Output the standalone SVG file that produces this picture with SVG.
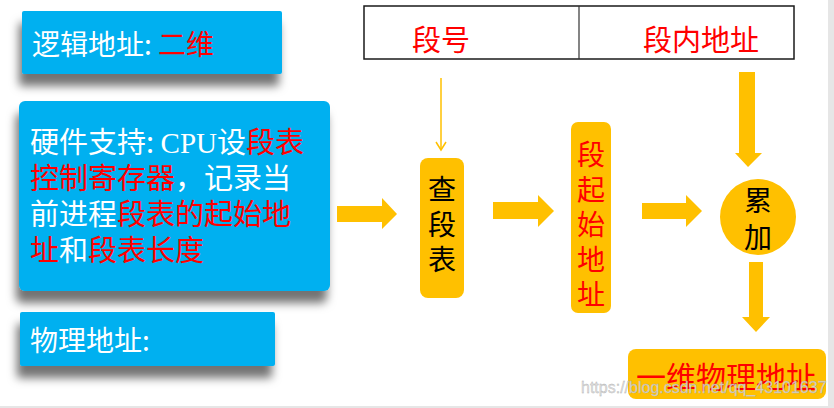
<svg xmlns="http://www.w3.org/2000/svg" width="834" height="408" viewBox="0 0 834 408">
<style>
.cjk{font-family:"Noto Sans CJK SC","Liberation Sans",sans-serif}
.w{fill:#ffffff}
.r{fill:#ff0000}
.k{fill:#000000}
.blue{fill:#00b0f0}
.org{fill:#ffc000}
.fat{fill:#ffc000}
</style>
<defs>
<filter id="sh" x="-20%" y="-30%" width="140%" height="180%">
<feDropShadow dx="-3" dy="12" stdDeviation="5" flood-color="#000" flood-opacity="0.55"/>
</filter>
<marker id="vhead" markerWidth="12" markerHeight="12" refX="10" refY="6" orient="auto" markerUnits="userSpaceOnUse" viewBox="0 0 12 12">
<path d="M2,1 L10,6 L2,11" fill="none" stroke="#ffc000" stroke-width="1.5"/>
</marker>
</defs>
<rect x="0" y="0" width="834" height="408" fill="#ffffff"/>
<rect x="828" y="0" width="6" height="408" fill="#e6e6e6"/>
<rect x="0" y="406" width="834" height="2" fill="#e6e6e6"/>

<g id="logical">
<rect x="22" y="11" width="260" height="63" rx="2" class="blue" filter="url(#sh)"/>
<text x="32" y="55" font-size="28" class="cjk"><tspan class="w">逻辑地址: </tspan><tspan class="r">二维</tspan></text>
</g>

<g id="hardware">
<rect x="19" y="101" width="311" height="190" rx="6" class="blue" filter="url(#sh)"/>
<text font-size="29" class="cjk">
<tspan x="30" y="153" class="w">硬件支持: </tspan><tspan class="w" font-family="Liberation Serif, serif">CPU</tspan><tspan class="w">设</tspan><tspan class="r">段表</tspan>
<tspan x="30" y="189" class="r">控制寄存器</tspan><tspan class="w">，记录当</tspan>
<tspan x="30" y="225" class="w">前进程</tspan><tspan class="r">段表的起始地</tspan>
<tspan x="30" y="261" class="r">址</tspan><tspan class="w">和</tspan><tspan class="r">段表长度</tspan>
</text>
</g>

<g id="physical">
<rect x="20" y="312" width="255" height="54" rx="2" class="blue" filter="url(#sh)"/>
<text x="30" y="351" font-size="28" class="cjk w">物理地址:</text>
</g>

<g id="address-table">
<rect x="364" y="6" width="430" height="53" fill="#ffffff" stroke="#1a1a1a" stroke-width="1.5"/>
<line x1="579" y1="6" x2="579" y2="59" stroke="#333" stroke-width="1.2"/>
<text x="412" y="51" font-size="29" class="cjk r">段号</text>
<text x="643" y="51" font-size="29" class="cjk r">段内地址</text>
</g>

<g id="lookup">
<rect x="420" y="158" width="44" height="140" rx="8" class="org"/>
<text font-size="28" class="cjk k" text-anchor="middle">
<tspan x="442" y="200">查</tspan><tspan x="442" y="235">段</tspan><tspan x="442" y="270">表</tspan>
</text>
</g>

<g id="segment-base">
<rect x="571" y="122" width="40" height="191" rx="7" class="org"/>
<text font-size="28" class="cjk r" text-anchor="middle">
<tspan x="591" y="165">段</tspan><tspan x="591" y="200">起</tspan><tspan x="591" y="235">始</tspan><tspan x="591" y="270">地</tspan><tspan x="591" y="305">址</tspan>
</text>
</g>

<g id="add">
<circle cx="758" cy="217" r="38" class="org"/>
<text font-size="28" class="cjk k" text-anchor="middle">
<tspan x="758" y="211">累</tspan><tspan x="758" y="248">加</tspan>
</text>
</g>

<g id="result">
<rect x="628" y="349" width="198" height="50" rx="8" class="org"/>
<text x="636" y="388" font-size="30" class="cjk r">一维物理地址</text>
</g>

<g id="connectors">
<line x1="441" y1="78" x2="441" y2="150" stroke="#ffc000" stroke-width="1.5" marker-end="url(#vhead)"/>
<path d="M739,72 H755 V153 H762 L748,167 L735,153 H739 Z" class="fat"/>
<path d="M337,206 H382 V198 L397,214 L382,229 V222 H337 Z" class="fat"/>
<path d="M493,202 H538 V195 L554,211 L538,227 V219 H493 Z" class="fat"/>
<path d="M642,203 H686 V195 L702,211 L686,227 V219 H642 Z" class="fat"/>
<path d="M749,262 H763 V317 H770 L756,332 L742,317 H749 Z" class="fat"/>
</g>

<text x="581" y="393" font-size="16" font-family="Liberation Sans, Arial, sans-serif" fill="#dcdcdc" fill-opacity="0.9" stroke="#aaaaaa" stroke-width="0.3">https://blog.csdn.net/qq_43101637</text>
</svg>
